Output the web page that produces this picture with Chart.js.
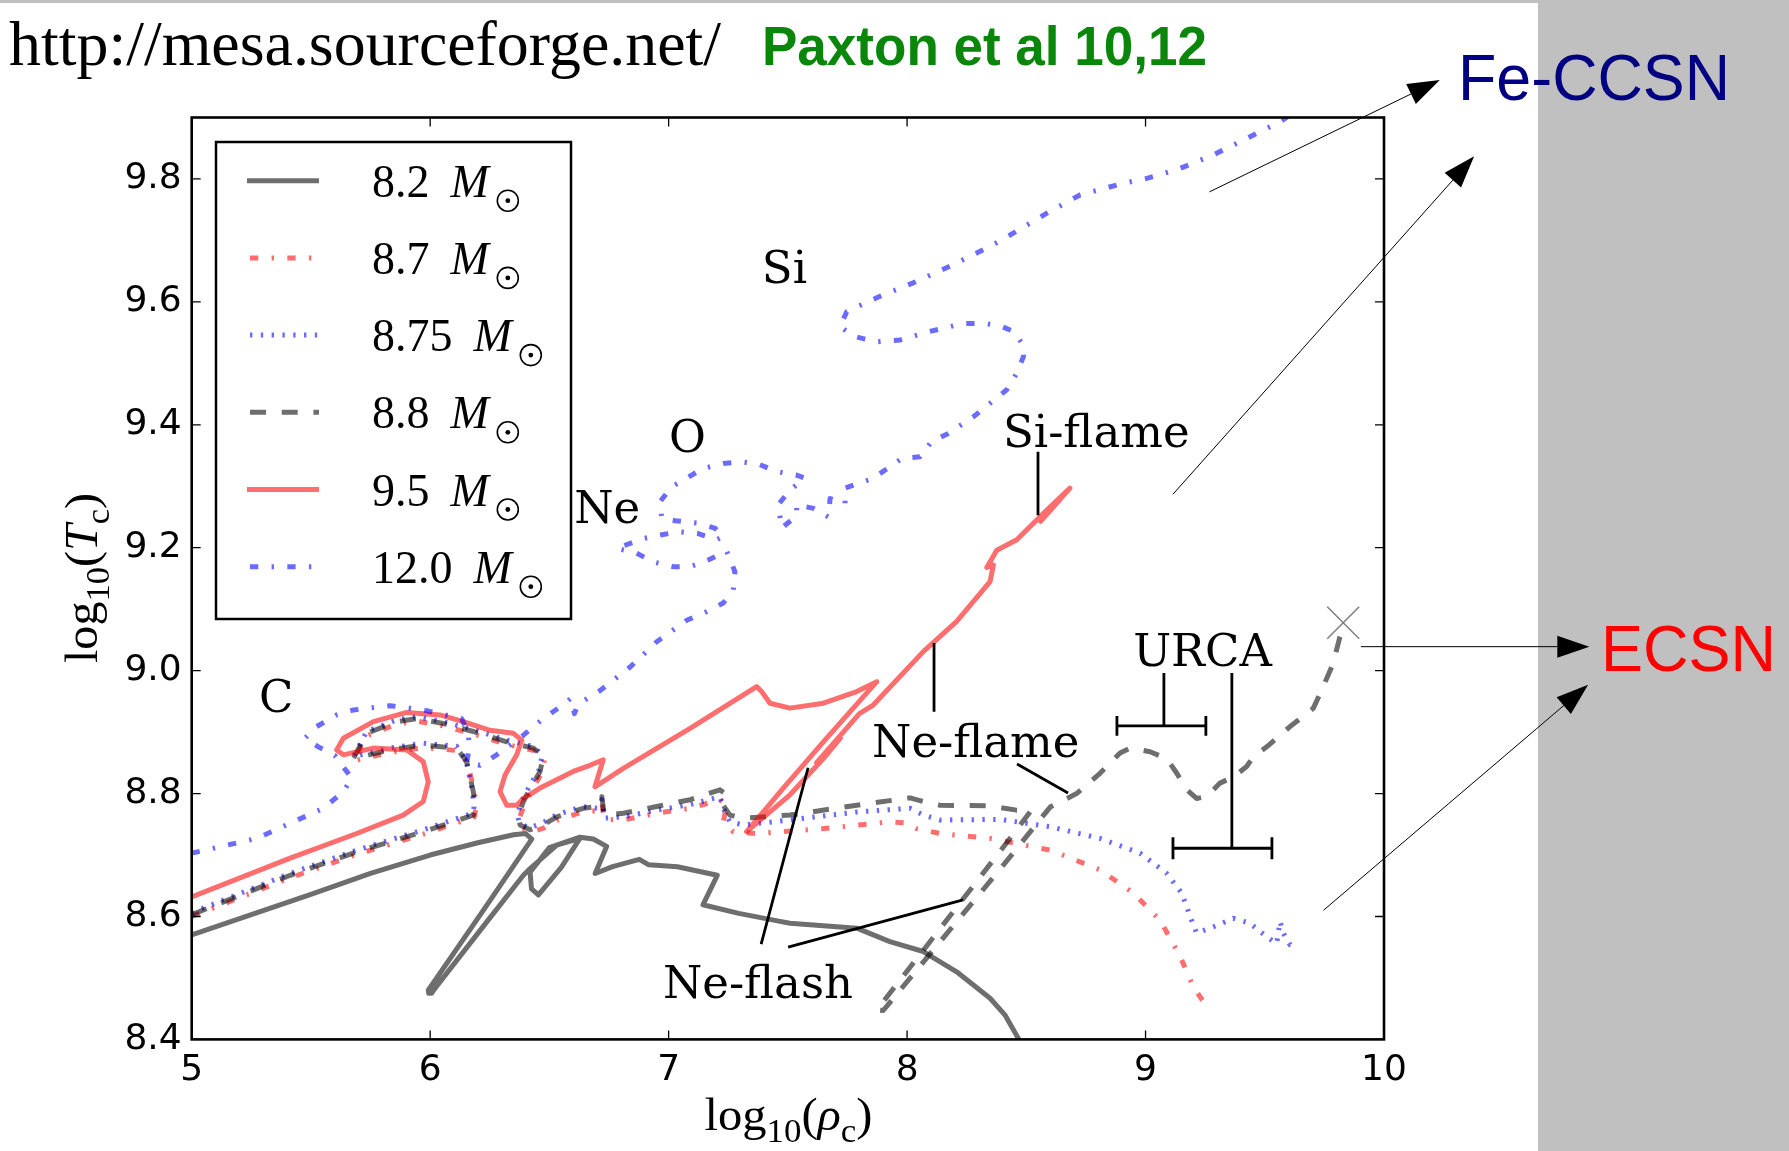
<!DOCTYPE html>
<html>
<head>
<meta charset="utf-8">
<script src="https://cdn.jsdelivr.net/npm/chart.js@4.4.0/dist/chart.umd.min.js"></script>
<style>
html,body{margin:0;padding:0;background:#fff;}
#wrap{width:1789px;height:1151px;}
</style>
</head>
<body>
<div id="wrap"><canvas id="chart" width="1789" height="1151"></canvas></div>
<script>
// central density / temperature tracks, [log10 rho_c, log10 T_c]
const masses = ['8.2', '8.7', '8.75', '8.8', '9.5', '12.0'];

const track82 = [[5.00,8.570],[5.25,8.603],[5.50,8.636],[5.75,8.670],[6.00,8.700],[6.20,8.720],[6.35,8.733],[6.40,8.735],[6.426,8.726],[6.235,8.617],[5.992,8.480],[5.994,8.475],[6.006,8.475],[6.020,8.483],[6.235,8.590],[6.391,8.667],[6.419,8.678],[6.531,8.716],[6.628,8.727],[6.550,8.680],[6.454,8.635],[6.425,8.645],[6.419,8.672],[6.500,8.712],[6.628,8.729],[6.684,8.726],[6.740,8.714],[6.692,8.670],[6.765,8.681],[6.877,8.693],[6.917,8.684],[7.037,8.681],[7.204,8.667],[7.144,8.619],[7.294,8.605],[7.467,8.592],[7.509,8.589],[7.789,8.581],[7.928,8.559],[8.068,8.543],[8.208,8.510],[8.348,8.467],[8.410,8.440],[8.469,8.400]];

const track87 = [[5.00,8.600],[5.413,8.663],[5.692,8.701],[5.971,8.734],[6.185,8.762],[6.192,8.776],[6.185,8.803],[6.157,8.850],[6.111,8.870],[5.971,8.875],[5.832,8.867],[5.678,8.853],[5.734,8.894],[5.860,8.913],[5.944,8.918],[6.055,8.910],[6.181,8.897],[6.321,8.880],[6.437,8.870],[6.480,8.856],[6.466,8.832],[6.424,8.804],[6.396,8.783],[6.375,8.761],[6.382,8.745],[6.424,8.737],[6.478,8.744],[6.535,8.757],[6.646,8.771],[6.700,8.772],[6.720,8.785],[6.730,8.758],[6.810,8.757],[6.950,8.768],[7.090,8.776],[7.215,8.790],[7.244,8.781],[7.229,8.754],[7.271,8.738],[7.369,8.735],[7.649,8.743],[7.928,8.754],[7.998,8.752],[8.040,8.743],[8.138,8.735],[8.348,8.727],[8.600,8.708],[8.809,8.676],[8.949,8.638],[9.061,8.594],[9.145,8.535],[9.200,8.486],[9.256,8.453]];

const track875 = [[5.00,8.606],[5.413,8.670],[5.692,8.708],[5.971,8.741],[6.178,8.768],[6.184,8.778],[6.177,8.805],[6.150,8.855],[6.111,8.877],[5.971,8.882],[5.832,8.874],[5.678,8.860],[5.734,8.901],[5.860,8.920],[5.944,8.925],[6.055,8.917],[6.181,8.904],[6.321,8.887],[6.430,8.877],[6.470,8.863],[6.457,8.839],[6.415,8.811],[6.387,8.790],[6.366,8.768],[6.373,8.752],[6.415,8.744],[6.470,8.752],[6.527,8.765],[6.638,8.779],[6.700,8.776],[6.720,8.790],[6.730,8.760],[6.810,8.762],[6.950,8.773],[7.090,8.782],[7.215,8.795],[7.229,8.776],[7.257,8.754],[7.313,8.749],[7.509,8.757],[7.789,8.770],[8.012,8.776],[8.068,8.765],[8.138,8.757],[8.390,8.758],[8.600,8.746],[8.809,8.727],[8.977,8.703],[9.089,8.670],[9.152,8.638],[9.187,8.600],[9.214,8.573],[9.284,8.583],[9.368,8.597],[9.438,8.589],[9.508,8.567],[9.550,8.556],[9.564,8.592],[9.578,8.573],[9.606,8.554],[9.627,8.554]];

const track88 = [[5.00,8.603],[5.413,8.667],[5.692,8.705],[5.971,8.738],[6.181,8.765],[6.188,8.776],[6.181,8.803],[6.153,8.852],[6.111,8.874],[5.971,8.879],[5.832,8.871],[5.678,8.857],[5.734,8.898],[5.860,8.917],[5.944,8.922],[6.055,8.914],[6.181,8.901],[6.321,8.884],[6.433,8.874],[6.474,8.860],[6.461,8.836],[6.419,8.808],[6.391,8.787],[6.370,8.765],[6.377,8.749],[6.419,8.741],[6.474,8.749],[6.531,8.762],[6.642,8.776],[6.700,8.779],[6.720,8.795],[6.730,8.765],[6.810,8.768],[6.950,8.779],[7.090,8.790],[7.215,8.806],[7.244,8.798],[7.229,8.781],[7.257,8.765],[7.313,8.760],[7.509,8.765],[7.789,8.781],[8.012,8.793],[8.068,8.787],[8.138,8.781],[8.348,8.780],[8.459,8.773],[8.520,8.772],[8.390,8.706],[8.100,8.561],[7.873,8.448],[7.900,8.447],[8.390,8.677],[8.600,8.778],[8.711,8.800],[8.809,8.833],[8.893,8.866],[8.935,8.874],[9.019,8.868],[9.089,8.857],[9.131,8.833],[9.173,8.806],[9.214,8.792],[9.256,8.795],[9.312,8.817],[9.368,8.827],[9.424,8.844],[9.452,8.860],[9.508,8.876],[9.606,8.909],[9.704,8.939],[9.745,8.974],[9.787,9.012],[9.815,9.055],[9.827,9.066]];

const track95 = [[5.00,8.632],[5.413,8.695],[5.692,8.735],[5.887,8.765],[5.971,8.787],[5.992,8.819],[5.971,8.852],[5.902,8.871],[5.762,8.874],[5.636,8.863],[5.608,8.871],[5.636,8.890],[5.762,8.917],[5.902,8.932],[6.041,8.928],[6.139,8.917],[6.251,8.903],[6.349,8.898],[6.384,8.887],[6.363,8.863],[6.314,8.830],[6.293,8.803],[6.321,8.781],[6.363,8.781],[6.391,8.792],[6.461,8.809],[6.600,8.836],[6.670,8.846],[6.726,8.855],[6.691,8.811],[6.810,8.841],[7.090,8.906],[7.369,8.974],[7.390,8.966],[7.425,8.947],[7.509,8.939],[7.649,8.947],[7.789,8.966],[7.873,8.982],[7.649,8.884],[7.481,8.809],[7.327,8.738],[7.509,8.798],[7.649,8.857],[7.720,8.890],[7.620,8.850],[7.800,8.930],[7.858,8.944],[8.068,9.031],[8.208,9.080],[8.348,9.145],[8.362,9.172],[8.334,9.168],[8.376,9.196],[8.460,9.213],[8.585,9.261],[8.683,9.297],[8.560,9.243],[8.640,9.278]];

const track120 = [[5.00,8.703],[5.273,8.727],[5.552,8.776],[5.636,8.803],[5.671,8.825],[5.600,8.862],[5.531,8.876],[5.475,8.890],[5.524,8.909],[5.608,8.928],[5.678,8.936],[5.832,8.943],[5.971,8.936],[6.132,8.922],[6.160,8.898],[6.164,8.874],[6.153,8.849],[6.209,8.846],[6.279,8.863],[6.391,8.895],[6.474,8.922],[6.545,8.941],[6.590,8.955],[6.605,8.930],[6.620,8.945],[6.714,8.968],[6.839,9.006],[6.950,9.047],[7.076,9.082],[7.160,9.096],[7.229,9.110],[7.271,9.131],[7.278,9.161],[7.244,9.194],[7.166,9.180],[7.090,9.169],[7.020,9.169],[6.936,9.177],[6.866,9.191],[6.782,9.199],[6.894,9.215],[6.971,9.221],[7.041,9.226],[7.124,9.223],[7.202,9.213],[7.229,9.218],[7.194,9.232],[7.118,9.240],[7.027,9.244],[6.971,9.248],[6.964,9.275],[7.013,9.299],[7.145,9.329],[7.229,9.337],[7.306,9.340],[7.383,9.335],[7.453,9.324],[7.537,9.318],[7.572,9.313],[7.509,9.294],[7.460,9.270],[7.474,9.232],[7.537,9.252],[7.537,9.270],[7.607,9.264],[7.670,9.250],[7.677,9.280],[7.740,9.272],[7.740,9.297],[7.858,9.313],[7.977,9.345],[8.054,9.348],[8.103,9.373],[8.173,9.386],[8.278,9.413],[8.348,9.435],[8.418,9.457],[8.460,9.484],[8.488,9.511],[8.481,9.533],[8.446,9.552],[8.390,9.561],[8.320,9.565],[8.236,9.565],[8.096,9.552],[7.970,9.538],[7.873,9.535],[7.775,9.544],[7.719,9.560],[7.747,9.584],[7.886,9.609],[8.026,9.631],[8.180,9.658],[8.320,9.685],[8.390,9.699],[8.585,9.744],[8.725,9.774],[8.907,9.793],[9.005,9.801],[9.131,9.815],[9.284,9.839],[9.424,9.866],[9.564,9.893],[9.610,9.905]];

// end point of the 8.8 track (collapse)
const ecsnEnd = [[9.829, 9.078]];

const rhoTicks = [5, 6, 7, 8, 9, 10];
const tcTicks = [8.4, 8.6, 8.8, 9.0, 9.2, 9.4, 9.6, 9.8];

// text labels and pointer lines, in data units
const notes = [
  ['Si', 7.391, 9.631], ['O', 7.002, 9.356], ['Ne', 6.604, 9.240], ['C', 5.282, 8.933],
  ['Si-flame', 8.402, 9.364], ['Ne-flame', 7.853, 8.860], ['Ne-flash', 6.976, 8.467], ['URCA', 8.948, 9.008]
];
const pointers = [
  [8.549, 9.356, 8.549, 9.253],
  [8.113, 9.045, 8.113, 8.933],
  [8.461, 8.848, 8.675, 8.801],
  [7.388, 8.555, 7.585, 8.842],
  [7.501, 8.550, 8.235, 8.627],
  [9.077, 8.996, 9.077, 8.910],
  [8.880, 8.910, 9.253, 8.910],
  [8.880, 8.894, 8.880, 8.926],
  [9.253, 8.894, 9.253, 8.926],
  [9.362, 8.996, 9.362, 8.711],
  [9.115, 8.711, 9.530, 8.711],
  [9.115, 8.693, 9.115, 8.729],
  [9.530, 8.693, 9.530, 8.729]
];
const arrows = [
  [9.268, 9.779, 10.234, 9.961],
  [9.115, 9.287, 10.378, 9.837],
  [9.903, 9.039, 10.861, 9.039],
  [9.746, 8.610, 10.856, 8.977]
];

const GRAY = 'rgba(0,0,0,0.57)';
const RED = 'rgba(255,0,0,0.57)';
const BLUE = 'rgba(0,0,255,0.58)';
const DASHDOT = [8.3, 13.3, 2.4, 13.3];
const DOTTED = [2.4, 8.4];
const DASHED = [16, 15.7];

const styles = [
  {color: GRAY, dash: []},
  {color: RED, dash: DASHDOT},
  {color: BLUE, dash: DOTTED},
  {color: GRAY, dash: DASHED},
  {color: RED, dash: []},
  {color: BLUE, dash: DASHDOT}
];
const tracks = [track82, track87, track875, track88, track95, track120];

const datasets = tracks.map((t, i) => ({
  label: masses[i],
  data: t.map(p => ({x: p[0], y: p[1]})),
  showLine: true,
  borderColor: styles[i].color,
  borderDash: styles[i].dash,
  borderWidth: 5,
  borderJoinStyle: 'round',
  pointRadius: 0,
  pointHoverRadius: 0,
  tension: 0,
  fill: false,
  order: 6 - i
}));
datasets.push({
  label: 'end',
  data: ecsnEnd.map(p => ({x: p[0], y: p[1]})),
  showLine: false,
  pointStyle: 'crossRot',
  pointRadius: 22.6,
  pointBorderWidth: 1.5,
  pointBorderColor: 'rgba(0,0,0,0.5)',
  pointBackgroundColor: 'rgba(0,0,0,0)',
  order: 0
});

function fitText(c, str, x, y, width) {
  const w = c.measureText(str).width;
  c.save();
  c.translate(x, y);
  c.scale(width / w, 1);
  c.fillText(str, 0, 0);
  c.restore();
}

// log10(..) style label with subscripts, centered at 0 on the baseline
function mathLabel(c, parts, width) {
  const big = 46, small = 33;
  let total = 0;
  const ws = parts.map(p => {
    c.font = (p[1] ? 'italic ' : '') + (p[2] ? small : big) + 'px "Liberation Serif"';
    const w = c.measureText(p[0]).width;
    total += w;
    return w;
  });
  const k = width / total;
  c.save();
  c.scale(k, 1);
  let x = -total / 2;
  parts.forEach((p, i) => {
    c.font = (p[1] ? 'italic ' : '') + (p[2] ? small : big) + 'px "Liberation Serif"';
    c.fillText(p[0], x, p[2] ? 12 : 0);
    x += ws[i];
  });
  c.restore();
}

function arrowLine(c, x1, y1, x2, y2) {
  const a = Math.atan2(y2 - y1, x2 - x1);
  const len = 32, hw = 11;
  const bx = x2 - Math.cos(a) * len, by = y2 - Math.sin(a) * len;
  c.beginPath();
  c.moveTo(x1, y1);
  c.lineTo(bx, by);
  c.stroke();
  c.beginPath();
  c.moveTo(x2, y2);
  c.lineTo(bx + Math.sin(a) * hw, by - Math.cos(a) * hw);
  c.lineTo(bx - Math.sin(a) * hw, by + Math.cos(a) * hw);
  c.closePath();
  c.fill();
}

const bgPlugin = {
  id: 'bg',
  beforeDraw(chart) {
    const c = chart.ctx;
    c.save();
    c.fillStyle = '#fff';
    c.fillRect(0, 0, chart.width, chart.height);
    c.fillStyle = '#c0c0c0';
    c.fillRect(1538, 0, chart.width - 1538, chart.height);
    c.fillRect(0, 0, chart.width, 3);
    c.restore();
  }
};

const decoPlugin = {
  id: 'deco',
  afterDatasetsDraw(chart) {
    const c = chart.ctx;
    const xs = chart.scales.x, ys = chart.scales.y;
    const a = chart.chartArea;
    const X = v => xs.getPixelForValue(v);
    const Y = v => ys.getPixelForValue(v);
    c.save();

    // frame and inward ticks
    c.strokeStyle = '#000';
    c.lineWidth = 2.6;
    c.strokeRect(a.left, a.top, a.right - a.left, a.bottom - a.top);
    c.lineWidth = 1.3;
    c.beginPath();
    rhoTicks.forEach(v => {
      const x = X(v);
      c.moveTo(x, a.bottom); c.lineTo(x, a.bottom - 9);
      c.moveTo(x, a.top); c.lineTo(x, a.top + 9);
    });
    tcTicks.forEach(v => {
      const y = Y(v);
      c.moveTo(a.left, y); c.lineTo(a.left + 9, y);
      c.moveTo(a.right, y); c.lineTo(a.right - 9, y);
    });
    c.stroke();

    // annotation texts
    c.fillStyle = '#000';
    c.font = '45px "DejaVu Serif"';
    c.textAlign = 'left';
    c.textBaseline = 'alphabetic';
    notes.forEach(n => c.fillText(n[0], X(n[1]), Y(n[2])));

    c.lineWidth = 2.8;
    c.lineCap = 'butt';
    c.beginPath();
    pointers.forEach(p => { c.moveTo(X(p[0]), Y(p[1])); c.lineTo(X(p[2]), Y(p[3])); });
    c.stroke();

    // legend
    c.fillStyle = '#fff';
    c.fillRect(216, 142, 355, 477);
    c.strokeStyle = '#000';
    c.lineWidth = 2.5;
    c.strokeRect(216, 142, 355, 477);
    styles.forEach((s, i) => {
      const y = 180.7 + i * 77.2;
      c.strokeStyle = s.color;
      c.lineWidth = 5;
      c.setLineDash(s.dash);
      c.beginPath();
      c.moveTo(s.dash.length ? 250 : 247, y);
      c.lineTo(319, y);
      c.stroke();
      c.setLineDash([]);
      c.fillStyle = '#000';
      c.font = '46px "Liberation Serif"';
      c.fillText(masses[i], 372, y + 16);
      const w = c.measureText(masses[i]).width;
      c.font = 'italic 46px "Liberation Serif"';
      const mx = 372 + w + 21;
      c.fillText('M', mx, y + 16);
      const cx = mx + c.measureText('M').width + 19, cy = y + 20;
      c.strokeStyle = '#000';
      c.lineWidth = 1.6;
      c.beginPath(); c.arc(cx, cy, 10.5, 0, Math.PI * 2); c.stroke();
      c.beginPath(); c.arc(cx, cy, 2.4, 0, Math.PI * 2); c.fill();
    });

    // axis titles
    c.fillStyle = '#000';
    c.save();
    c.translate(788.5, 1130);
    mathLabel(c, [['log', 0, 0], ['10', 0, 1], ['(', 0, 0], ['\u03C1', 1, 0], ['c', 0, 1], [')', 0, 0]], 168);
    c.restore();
    c.save();
    c.translate(97, 578);
    c.rotate(-Math.PI / 2);
    mathLabel(c, [['log', 0, 0], ['10', 0, 1], ['(', 0, 0], ['T', 1, 0], ['c', 0, 1], [')', 0, 0]], 170);
    c.restore();

    // header texts
    c.fillStyle = '#000';
    c.font = '63px "Liberation Serif"';
    fitText(c, 'http://mesa.sourceforge.net/', 9, 65, 712);
    c.fillStyle = '#0a870a';
    c.font = 'bold 56px "Liberation Sans"';
    fitText(c, 'Paxton et al 10,12', 762, 65, 445);
    c.fillStyle = '#000080';
    c.font = '64px "Liberation Sans"';
    fitText(c, 'Fe-CCSN', 1458, 100, 272);
    c.fillStyle = '#ff0000';
    c.font = '64px "Liberation Sans"';
    fitText(c, 'ECSN', 1601, 671, 175);

    // arrows to the outcomes
    c.strokeStyle = '#000';
    c.fillStyle = '#000';
    c.lineWidth = 1;
    arrows.forEach(r => arrowLine(c, X(r[0]), Y(r[1]), X(r[2]), Y(r[3])));

    c.restore();
  }
};

const chart = new Chart(document.querySelector('#chart'), {
  type: 'scatter',
  data: {datasets: datasets},
  options: {
    responsive: false,
    devicePixelRatio: 1,
    animation: false,
    events: [],
    layout: {padding: {left: 0, top: 117.5, right: 405, bottom: 0}},
    plugins: {legend: {display: false}, tooltip: {enabled: false}},
    scales: {
      x: {
        type: 'linear', min: 5, max: 10,
        afterFit(s) { s.height = 111.6; },
        afterBuildTicks(s) { s.ticks = rhoTicks.map(v => ({value: v})); },
        ticks: {
          font: {family: 'DejaVu Sans', size: 36}, color: '#000', padding: 10,
          maxRotation: 0, autoSkip: false, callback: v => String(v)
        },
        grid: {display: false, drawTicks: false},
        border: {display: false}
      },
      y: {
        type: 'linear', min: 8.4, max: 9.9,
        afterFit(s) { s.width = 191.7; },
        afterBuildTicks(s) { s.ticks = tcTicks.map(v => ({value: v})); },
        ticks: {
          font: {family: 'DejaVu Sans', size: 36}, color: '#000', padding: 10,
          autoSkip: false, callback: v => v.toFixed(1)
        },
        grid: {display: false, drawTicks: false},
        border: {display: false}
      }
    }
  },
  plugins: [bgPlugin, decoPlugin]
});
</script>
</body>
</html>
